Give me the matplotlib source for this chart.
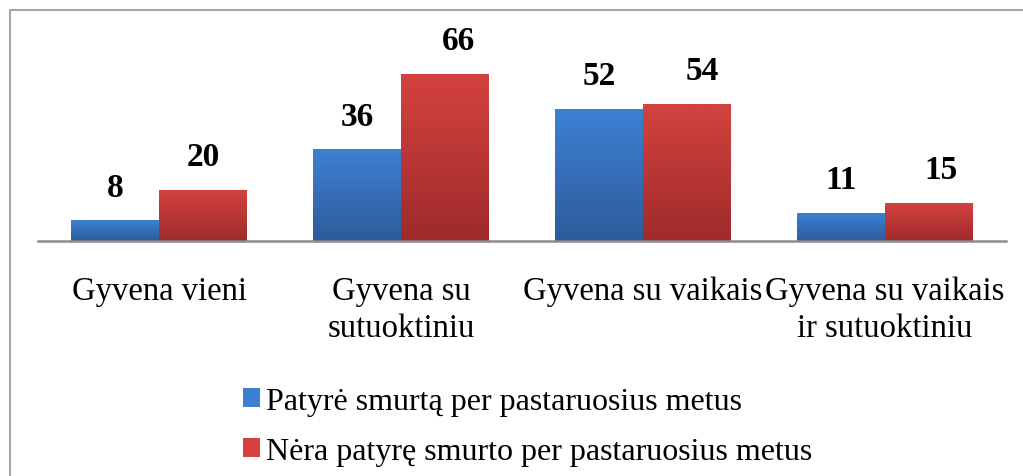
import numpy as np
import matplotlib.pyplot as plt
from matplotlib.colors import LinearSegmentedColormap
from matplotlib.patches import Rectangle, Patch

plt.rcParams['font.family'] = ['Liberation Serif', 'DejaVu Serif']

# Duomenys
kategorijos = ["Gyvena vieni", "Gyvena su\nsutuoktiniu", "Gyvena su vaikais",
               "Gyvena su vaikais\nir sutuoktiniu"]
patyre = [8, 36, 52, 11]
nepatyre = [20, 66, 54, 15]
serijos = ["Patyrė smurtą per pastaruosius metus",
           "Nėra patyrę smurto per pastaruosius metus"]

melyna = ("#3d80d2", "#2e5c9c")
raudona = ("#d3423e", "#9f2b2b")
# etikečių poslinkis (taškais), kaip originale
poslinkis_raud = [0, 10, 11, 9]

fig = plt.figure(figsize=(10.23, 4.77), dpi=100)
ax = fig.add_axes([38 / 1023, 1 - 242 / 477, 968 / 1023, 212 / 477])

x = np.arange(len(kategorijos))
w = 0.3636
b1 = ax.bar(x - w / 2, patyre, w, color=melyna[0])
b2 = ax.bar(x + w / 2, nepatyre, w, color=raudona[0])

# gradientas ant stulpelių
grad = np.linspace(0, 1, 100).reshape(-1, 1)
for bars, (c_top, c_bot), dx in ((b1, melyna, [0] * 4),
                                 (b2, raudona, poslinkis_raud)):
    cmap = LinearSegmentedColormap.from_list("g", [c_bot, c_top])
    for b, d in zip(bars, dx):
        bx, by = b.get_x(), b.get_y()
        ax.imshow(grad, cmap=cmap, origin="lower", aspect="auto",
                  extent=[bx, bx + b.get_width(), by, by + b.get_height()],
                  zorder=2)
        ax.annotate(str(int(b.get_height())),
                    (bx + b.get_width() / 2, b.get_height()),
                    xytext=(d, 13), textcoords="offset points",
                    ha="center", va="bottom", fontsize=24, fontweight="bold")

ax.set_xlim(-0.5, 3.5)
ax.set_ylim(0, 212 / 2.53)
ax.set_yticks([])
ax.set_xticks(x)
ax.set_xticklabels(kategorijos, fontsize=23.5, linespacing=1.27)
ax.tick_params(axis="x", length=0, pad=25)
for s in ["top", "right", "left"]:
    ax.spines[s].set_visible(False)
ax.spines["bottom"].set_color("#8c8c8c")
ax.spines["bottom"].set_linewidth(1.8)

# rėmelis (nukirptas)
fig.patches.append(Rectangle((9.5 / 1023, -0.1), 1.2, 1 - 11 / 477 + 0.1,
                             transform=fig.transFigure, fill=False,
                             edgecolor="#a6a6a6", linewidth=1.5))

rankenos = [Patch(facecolor=melyna[0]), Patch(facecolor=raudona[0])]
fig.legend(rankenos, serijos, loc="upper left",
           bbox_to_anchor=(230 / 1023, 1 - 375 / 477), frameon=False,
           fontsize=23, handlelength=0.53, handleheight=0.53,
           handletextpad=0.2, labelspacing=0.66, borderaxespad=0)

fig.savefig("out.png", dpi=100)
